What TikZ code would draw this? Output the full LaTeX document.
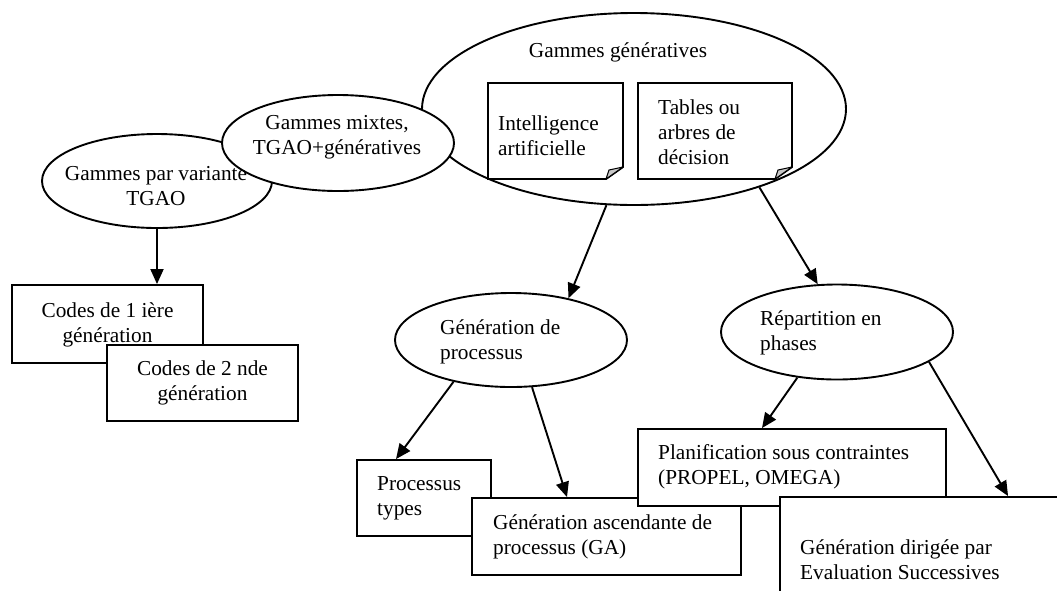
\documentclass[tikz,border=0pt]{standalone}
\usepackage{fontspec}
\setmainfont{Liberation Serif}
\usetikzlibrary{shapes.geometric,arrows.meta,calc}
\tikzset{
  ell/.style={ellipse, draw, fill=white, inner sep=0pt, line width=1.9pt},
  boxn/.style={rectangle, draw, fill=white, inner sep=0pt, line width=1.9pt},
  notebox/.style={draw, fill=white, line width=1.9pt, line join=miter},
  foldc/.style={draw, fill=black!22, line width=1pt, line join=round},
  txt/.style={inner sep=0pt, font=\fontsize{21.3}{25}\selectfont},
  arr/.style={line width=1.9pt, -{Triangle[length=15pt,width=13pt]}},
}
\begin{document}
\begin{tikzpicture}[x=1pt,y=-1pt]
\fill[white] (0,0) rectangle (1057,590);
\useasboundingbox (0,0) rectangle (1057,590);
\clip (0,0) rectangle (1057,590);

% ellipses in the top row
\node[ell, minimum width=230pt, minimum height=94pt] (var) at (157,181) {};
\node[ell, minimum width=424pt, minimum height=192pt] (gen) at (634,109) {};
\node[ell, minimum width=232pt, minimum height=96pt] (mix) at (338,143) {};

% (base anchor = baseline of the last line)
\node[txt, align=center, anchor=base] (tvar) at (156,205) {Gammes par variante\\TGAO};
\node[txt, align=center, anchor=base] (tmix) at (337,154) {Gammes mixtes,\\TGAO+génératives};
\node[txt, anchor=base] (tgen) at (618,57) {Gammes génératives};

% folded notes inside "Gammes generatives"
\path[notebox] (488,83) -- (623,83) -- (623,167) -- (606,179) -- (488,179) -- cycle;
\path[foldc] (623,167) -- (609,170) -- (606,179) -- cycle;
\path[notebox] (638,83) -- (792,83) -- (792,167) -- (775,179) -- (638,179) -- cycle;
\path[foldc] (792,167) -- (778,170) -- (775,179) -- cycle;
\node[txt, align=left, anchor=base west] (tia) at (498,155) {Intelligence\\artificielle};
\node[txt, align=left, anchor=base west] (ttab) at (658,164) {Tables ou\\arbres de\\décision};

% second row ellipses
\node[ell, minimum width=232pt, minimum height=94pt] (gp) at (511,340) {};
\node[ell, minimum width=232pt, minimum height=95pt] (rep) at (837,332) {};
\node[txt, align=left, anchor=base west] (tgp) at (440,359) {Génération de\\processus};
\node[txt, align=left, anchor=base west] (trep) at (760,350) {Répartition en\\phases};

% boxes on the left
\node[boxn, minimum width=191pt, minimum height=78pt] (c1) at (107.5,324) {};
\node[txt, align=center, anchor=base] (tc1) at (107.5,342) {Codes de 1 ière\\génération};
\node[boxn, minimum width=191pt, minimum height=76pt] (c2) at (202.5,383) {};
\node[txt, align=center, anchor=base] (tc2) at (202.5,400) {Codes de 2 nde\\génération};

% boxes at the bottom
\node[boxn, minimum width=134pt, minimum height=76pt] (pt) at (424,498) {};
\node[txt, align=left, anchor=base west] (tpt) at (377,515) {Processus\\types};
\node[boxn, minimum width=269pt, minimum height=77pt] (ga) at (606.5,536.5) {};
\node[txt, align=left, anchor=base west] (tga) at (493,554) {Génération ascendante de\\processus (GA)};
\node[boxn, minimum width=308pt, minimum height=77pt] (pl) at (792,467.5) {};
\node[txt, align=left, anchor=base west] (tpl) at (658,484) {Planification sous contraintes\\(PROPEL, OMEGA)};
\node[boxn, minimum width=310pt, minimum height=143pt] (gd) at (935,568.5) {};
\node[txt, align=left, anchor=base west] (tgd) at (800,579) {Génération dirigée par\\Evaluation Successives};

% connectors
\draw[arr] (var.south) -- (var.south |- c1.north);
\draw[arr] (gen.254.3) -- (gp.36.4);
\draw[arr] (gen.-32.1) -- (rep.112.2);
\draw[arr] (gp.216.6) -- ($(pt.north)+(-28,0)$);
\draw[arr] (gp.-66.2) -- ($(ga.north)+(-39.5,0)$);
\draw[arr] (rep.229.1) -- ($(pl.north)+(-30,0)$);
\draw[arr] (rep.-18.4) -- ($(gd.north west)+(229,0)$);
\end{tikzpicture}
\end{document}
